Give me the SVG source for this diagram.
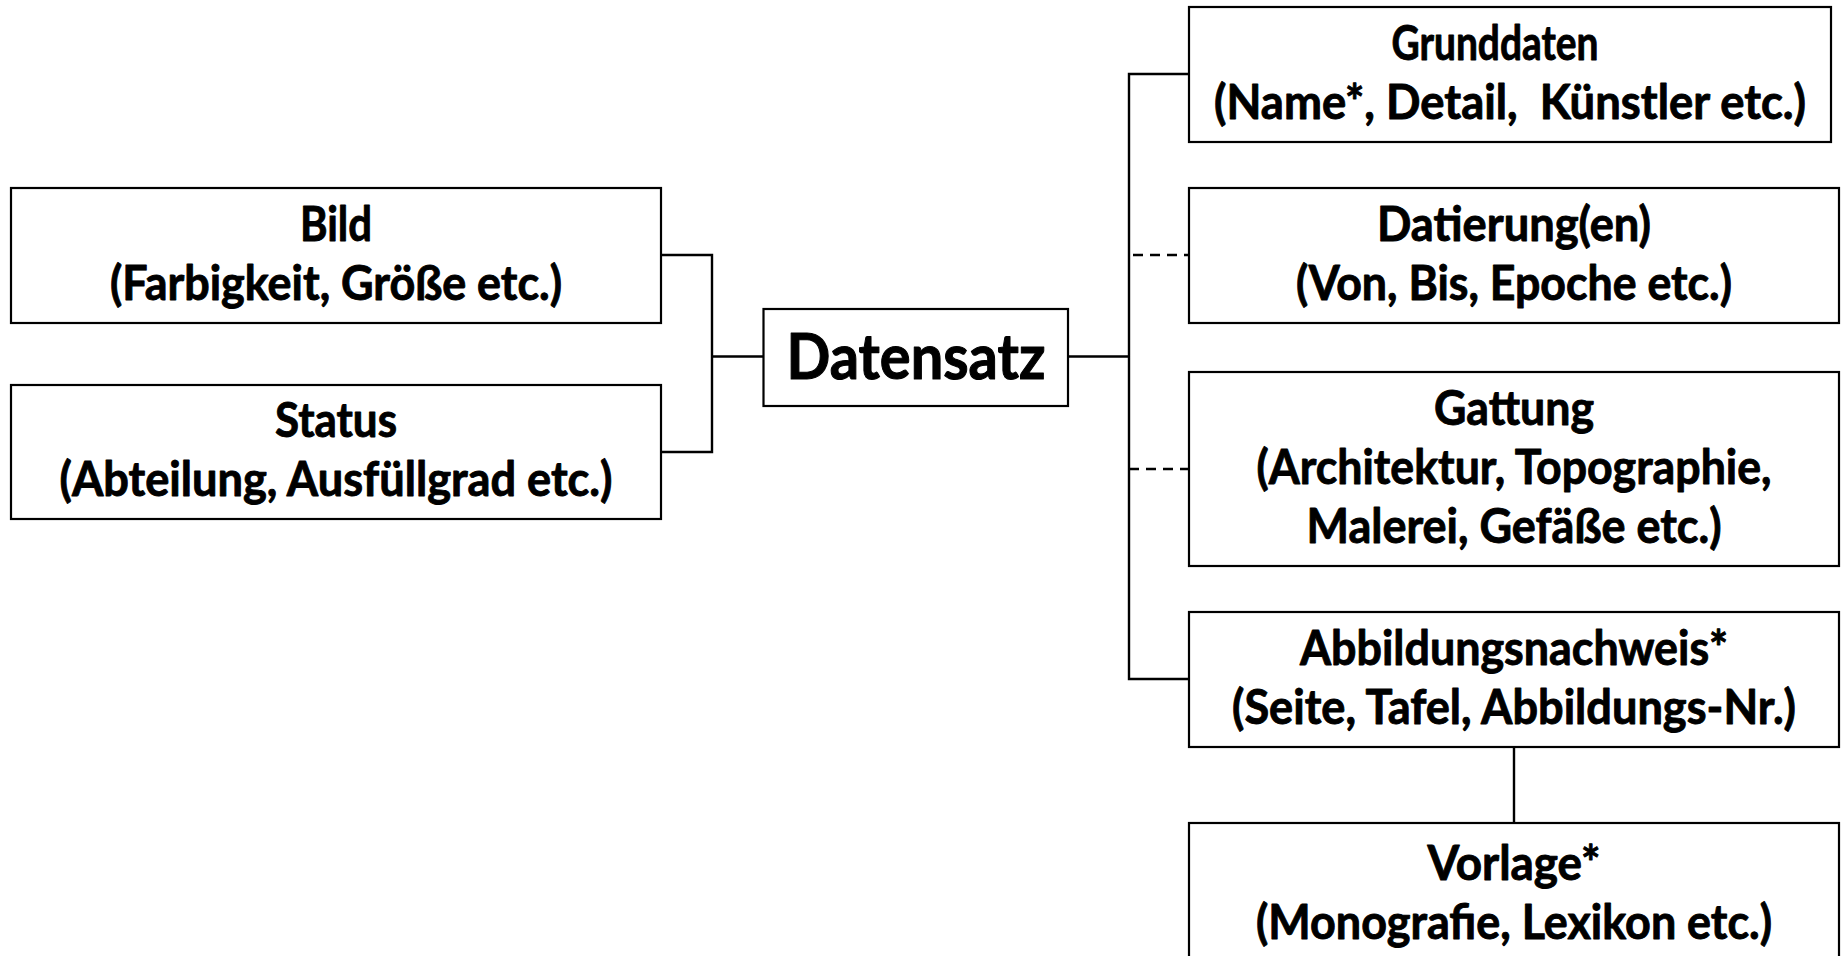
<svg xmlns="http://www.w3.org/2000/svg" width="1845" height="956" viewBox="0 0 1845 956">
<style>
.box{fill:#fff;stroke:#000;stroke-width:2.2}
.t{font-family:Lato,"Open Sans","Liberation Sans",sans-serif;font-weight:bold;font-size:48px;text-anchor:middle;fill:#000;stroke:#000;stroke-width:0.9;stroke-linejoin:round}
.big{font-size:63px;stroke-width:1.1}
.c{fill:none;stroke:#000;stroke-width:2.4}
.d{stroke-dasharray:10 7}
</style>
<rect width="1845" height="956" fill="#fff"/>
<g id="connectors">
<path class="c" d="M661 255 H712 V452 H661 M712 356.5 H763.5"/>
<path class="c" d="M1068 356.5 H1129 M1189 74 H1129 V679 H1189 M1514 747 V823"/>
<path class="c d" d="M1133 255 H1189 M1129 469 H1189"/>
</g>
<g id="bild">
<rect class="box" x="11" y="188" width="650" height="135"/>
<text class="t" x="336" y="241" textLength="72" lengthAdjust="spacingAndGlyphs">Bild</text>
<text class="t" x="336" y="300" textLength="452" lengthAdjust="spacingAndGlyphs">(Farbigkeit, Größe etc.)</text>
</g>
<g id="status">
<rect class="box" x="11" y="385" width="650" height="134"/>
<text class="t" x="336" y="437" textLength="122" lengthAdjust="spacingAndGlyphs">Status</text>
<text class="t" x="336" y="496" textLength="553" lengthAdjust="spacingAndGlyphs">(Abteilung, Ausfüllgrad etc.)</text>
</g>
<g id="datensatz">
<rect class="box" x="763.5" y="309" width="304.5" height="97"/>
<text class="t big" x="916" y="379" textLength="259" lengthAdjust="spacingAndGlyphs">Datensatz</text>
</g>
<g id="grunddaten">
<rect class="box" x="1189" y="7" width="642" height="135"/>
<text class="t" x="1495" y="60" textLength="207" lengthAdjust="spacingAndGlyphs">Grunddaten</text>
<text class="t" x="1510" y="119" textLength="592" lengthAdjust="spacingAndGlyphs" xml:space="preserve">(Name*, Detail,  Künstler etc.)</text>
</g>
<g id="datierung">
<rect class="box" x="1189" y="188" width="650" height="135"/>
<text class="t" x="1514" y="241" textLength="274" lengthAdjust="spacingAndGlyphs">Datierung(en)</text>
<text class="t" x="1514" y="300" textLength="436" lengthAdjust="spacingAndGlyphs">(Von, Bis, Epoche etc.)</text>
</g>
<g id="gattung">
<rect class="box" x="1189" y="372" width="650" height="194"/>
<text class="t" x="1514" y="425" textLength="160" lengthAdjust="spacingAndGlyphs">Gattung</text>
<text class="t" x="1514" y="484" textLength="515" lengthAdjust="spacingAndGlyphs">(Architektur, Topographie,</text>
<text class="t" x="1514" y="543" textLength="415" lengthAdjust="spacingAndGlyphs">Malerei, Gefäße etc.)</text>
</g>
<g id="abbildungsnachweis">
<rect class="box" x="1189" y="612" width="650" height="135"/>
<text class="t" x="1514" y="665" textLength="428" lengthAdjust="spacingAndGlyphs">Abbildungsnachweis*</text>
<text class="t" x="1514" y="724" textLength="564" lengthAdjust="spacingAndGlyphs">(Seite, Tafel, Abbildungs-Nr.)</text>
</g>
<g id="vorlage">
<rect class="box" x="1189" y="823" width="650" height="145"/>
<text class="t" x="1514" y="880" textLength="173" lengthAdjust="spacingAndGlyphs">Vorlage*</text>
<text class="t" x="1514" y="939" textLength="516" lengthAdjust="spacingAndGlyphs">(Monografie, Lexikon etc.)</text>
</g>
</svg>
